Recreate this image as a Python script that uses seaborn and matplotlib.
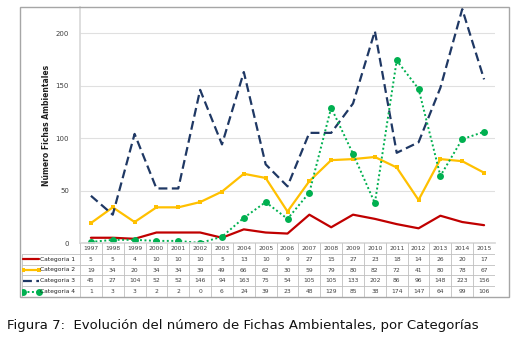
import numpy as np
import pandas as pd
import matplotlib
matplotlib.use("Agg")
import matplotlib.pyplot as plt
import seaborn as sns
from matplotlib.patches import Rectangle
from matplotlib.lines import Line2D

anios = [1997, 1998, 1999, 2000, 2001, 2002, 2003, 2004, 2005, 2006,
         2007, 2008, 2009, 2010, 2011, 2012, 2013, 2014, 2015]
categoria_1 = [5, 5, 4, 10, 10, 10, 5, 13, 10, 9, 27, 15, 27, 23, 18, 14, 26, 20, 17]
categoria_2 = [19, 34, 20, 34, 34, 39, 49, 66, 62, 30, 59, 79, 80, 82, 72, 41, 80, 78, 67]
categoria_3 = [45, 27, 104, 52, 52, 146, 94, 163, 75, 54, 105, 105, 133, 202, 86, 96, 148, 223, 156]
categoria_4 = [1, 3, 3, 2, 2, 0, 6, 24, 39, 23, 48, 129, 85, 38, 174, 147, 64, 99, 106]
nombres = ["Categoria 1", "Categoria 2", "Categoria 3", "Categoria 4"]
ticks_y = [0, 50, 100, 150, 200]

series = [categoria_1, categoria_2, categoria_3, categoria_4]
estilos = [
    dict(color="#C00000", lw=1.6, ls="-", marker=None, ms=0),
    dict(color="#FFC000", lw=1.6, ls="-", marker="s", ms=3),
    dict(color="#1F3864", lw=1.6, ls=(0, (4, 2)), marker=None, ms=0),
    dict(color="#00B050", lw=1.4, ls=(0, (1, 1.3)), marker="o", ms=5),
]

df = pd.DataFrame({"pos": list(range(len(anios))) * 4,
                   "valor": sum(series, []),
                   "serie": np.repeat(nombres, len(anios))})

sns.set_theme(style="white")
plt.rcParams["font.family"] = ["DejaVu Sans"]

W, H = 515, 338
fig = plt.figure(figsize=(W / 100, H / 100), dpi=100)

def caja(x0, y0, x1, y1):
    return [x0 / W, 1 - y1 / H, (x1 - x0) / W, (y1 - y0) / H]

# marco exterior
fig.patches.append(Rectangle((20 / W, 1 - 297 / H), 489 / W, 290 / H,
                             transform=fig.transFigure, fill=False,
                             edgecolor="#A6A6A6", lw=1.0))

ax = fig.add_axes(caja(80, 7, 495, 243))
for nombre, est in zip(nombres, estilos):
    d = df[df["serie"] == nombre]
    sns.lineplot(data=d, x="pos", y="valor", ax=ax, color=est["color"],
                 linewidth=est["lw"], linestyle=est["ls"], marker=est["marker"],
                 markersize=est["ms"], markeredgewidth=0, legend=False)

ax.set_xlim(-0.5, len(anios) - 0.5)
ax.set_ylim(0, 225)
ax.set_yticks(ticks_y)
ax.set_yticklabels([str(t) for t in ticks_y], fontsize=5, color="#404040")
ax.set_xticks([])
ax.set_xlabel("")
ax.set_ylabel("Número Fichas Ambientales", fontsize=5.5, fontweight="bold",
              color="#202020", labelpad=3)
ax.grid(axis="y", color="#E0E0E0", lw=0.8)
ax.set_axisbelow(True)
for s in ["top", "right"]:
    ax.spines[s].set_visible(False)
ax.spines["left"].set_color("#D9D9D9")
ax.spines["bottom"].set_color("#D9D9D9")
ax.tick_params(axis="y", length=0, pad=8)

# tabla de datos
unidad = 415 / len(anios)
ext = (80 - 22) / unidad
tx = fig.add_axes(caja(22, 243, 495, 297))
tx.set_xlim(-0.5 - ext, len(anios) - 0.5)
tx.set_ylim(5, 0)
tx.axis("off")
gris = "#BFBFBF"
for i in range(len(anios) + 1):
    tx.plot([i - 0.5, i - 0.5], [0, 5], color=gris, lw=0.6)
for j in range(1, 6):
    tx.plot([-0.5 - ext, len(anios) - 0.5], [j, j], color=gris, lw=0.6)
tx.plot([-0.5 - ext, -0.5 - ext], [1, 5], color=gris, lw=0.6)
for i, a in enumerate(anios):
    tx.text(i, 0.5, str(a), ha="center", va="center", fontsize=4.3, color="#404040")
for r, (nombre, vals, est) in enumerate(zip(nombres, series, estilos)):
    y = r + 1.5
    for i, v in enumerate(vals):
        tx.text(i, y, str(v), ha="center", va="center", fontsize=4.3, color="#404040")
    xa, xb = -0.5 - ext + 0.05, -0.5 - ext + 0.8
    tx.add_line(Line2D([xa, xb], [y, y], color=est["color"], lw=est["lw"],
                       ls=est["ls"]))
    if est["marker"]:
        tx.plot([xa, xb], [y, y], ls="none", marker=est["marker"],
                color=est["color"], ms=est["ms"], mew=0)
    tx.text(xb + 0.02, y, nombre, ha="left", va="center", fontsize=4.3, color="#202020")

fig.text(7 / W, 1 - 325 / H,
         "Figura 7:  Evolución del número de Fichas Ambientales, por Categorías",
         fontsize=9.5, color="#111111", va="center", ha="left")

fig.savefig("out.png", dpi=100)
